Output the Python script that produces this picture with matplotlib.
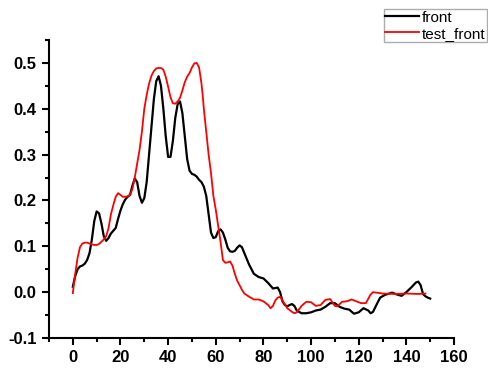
import matplotlib
matplotlib.use("Agg")
import matplotlib.pyplot as plt
from matplotlib.ticker import MultipleLocator

front_x = [0, 1, 2, 3, 4, 5, 6, 7, 8, 9, 10, 11, 12, 13, 14, 15, 16, 17, 18, 19,
           20, 21, 22, 23, 24, 25, 26, 27, 28, 29, 30, 31, 32, 33, 34, 35, 36, 37, 38, 39,
           40, 41, 42, 43, 44, 45, 46, 47, 48, 49, 50, 51, 52, 53, 54, 55, 56, 57, 58, 59,
           60, 61, 62, 63, 64, 65, 66, 67, 68, 69, 70, 71, 72, 74, 76, 78, 80, 82, 84, 85,
           86, 87, 88, 89, 90, 91, 92, 93, 94, 96, 98, 100, 102, 104, 106, 108, 110, 112, 114, 116,
           118, 120, 122, 124, 125, 126, 128, 129, 131, 134, 136, 138, 140, 142, 144, 145, 146, 147, 148, 149, 150]
front_y = [0.012, 0.035, 0.05, 0.056, 0.058, 0.062, 0.07, 0.085, 0.115, 0.155, 0.176, 0.172, 0.15, 0.122, 0.112, 0.118, 0.128, 0.134, 0.14, 0.16,
           0.178, 0.192, 0.202, 0.208, 0.212, 0.232, 0.248, 0.24, 0.21, 0.195, 0.205, 0.24, 0.3, 0.36, 0.42, 0.46, 0.471, 0.45, 0.4, 0.34,
           0.295, 0.295, 0.33, 0.38, 0.41, 0.416, 0.39, 0.34, 0.29, 0.265, 0.258, 0.256, 0.252, 0.245, 0.24, 0.23, 0.21, 0.17, 0.13, 0.118,
           0.12, 0.133, 0.137, 0.13, 0.115, 0.097, 0.089, 0.088, 0.09, 0.097, 0.102, 0.098, 0.085, 0.06, 0.04, 0.033, 0.03, 0.02, 0.008, 0.009,
           0.01, 0.0, -0.02, -0.028, -0.031, -0.028, -0.026, -0.03, -0.04, -0.046, -0.046, -0.044, -0.04, -0.038, -0.032, -0.024, -0.024, -0.032, -0.036, -0.038,
           -0.047, -0.044, -0.035, -0.04, -0.046, -0.043, -0.022, -0.012, -0.006, -0.001, -0.005, -0.008, 0.0, 0.01, 0.021, 0.023, 0.015, -0.004, -0.009, -0.012, -0.014]

test_x = [0, 1, 2, 3, 4, 5, 6, 7, 8, 9, 10, 11, 12, 13, 14, 15, 16, 17, 18, 19,
          20, 21, 22, 23, 24, 25, 26, 27, 28, 29, 30, 31, 32, 33, 34, 35, 36, 37, 38, 39,
          40, 41, 42, 43, 44, 45, 46, 47, 48, 49, 50, 51, 52, 53, 54, 54.5, 55, 56, 57, 58,
          59, 60, 61, 62, 63, 64, 65, 66, 67, 68, 69, 70, 71, 72, 74, 76, 78, 80, 82, 83,
          84, 85, 86, 87, 88, 90, 92, 93, 94, 96, 98, 100, 102, 104, 106, 108, 110, 111, 113, 115,
          117, 119, 121, 123, 125, 126, 130, 135, 140, 145, 148]
test_y = [-0.002, 0.04, 0.075, 0.098, 0.106, 0.108, 0.108, 0.106, 0.104, 0.103, 0.103, 0.105, 0.11, 0.115, 0.122, 0.14, 0.17, 0.19, 0.208, 0.216,
          0.212, 0.208, 0.208, 0.209, 0.212, 0.225, 0.25, 0.28, 0.31, 0.35, 0.4, 0.43, 0.455, 0.472, 0.482, 0.488, 0.489, 0.489, 0.485, 0.47,
          0.448, 0.425, 0.412, 0.411, 0.416, 0.424, 0.44, 0.458, 0.47, 0.478, 0.49, 0.499, 0.5, 0.49, 0.455, 0.43, 0.4, 0.35, 0.3, 0.26,
          0.21, 0.18, 0.145, 0.11, 0.07, 0.064, 0.065, 0.067, 0.058, 0.04, 0.025, 0.015, 0.005, -0.003, -0.01, -0.016, -0.016, -0.02, -0.028, -0.035,
          -0.03, -0.018, -0.012, -0.01, -0.018, -0.035, -0.043, -0.046, -0.044, -0.03, -0.021, -0.022, -0.03, -0.028, -0.017, -0.015, -0.03, -0.031, -0.021, -0.02,
          -0.016, -0.02, -0.024, -0.024, -0.005, 0.0, -0.003, -0.004, -0.003, -0.004, -0.003]

labels = ["front", "test_front"]

plt.rcParams['font.family'] = ['Liberation Sans', 'DejaVu Sans']

fig = plt.figure(figsize=(4.88, 3.72), dpi=100)
ax = fig.add_axes([49/488, 1-338/372, (454-49)/488, (338-40)/372])

ax.plot(front_x, front_y, color='black', lw=1.6, label=labels[0])
ax.plot(test_x, test_y, color='red', lw=1.3, label=labels[1])

ax.set_xlim(-10, 160)
ax.set_ylim(-0.1, 0.55)
ax.xaxis.set_major_locator(MultipleLocator(20))
ax.xaxis.set_minor_locator(MultipleLocator(10))
ax.yaxis.set_major_locator(MultipleLocator(0.1))
ax.yaxis.set_minor_locator(MultipleLocator(0.05))
ax.yaxis.set_major_formatter(matplotlib.ticker.FormatStrFormatter('%.1f'))

for s in ['top', 'right']:
    ax.spines[s].set_visible(False)
for s in ['left', 'bottom']:
    ax.spines[s].set_linewidth(1.5)
ax.tick_params(which='major', direction='out', length=5, width=1.5, labelsize=12, pad=4)
ax.tick_params(which='minor', direction='out', length=3, width=1.5)
for lab in ax.get_xticklabels() + ax.get_yticklabels():
    lab.set_fontweight('bold')

leg = fig.legend(loc='upper right', bbox_to_anchor=(487/488, 1-9/372), bbox_transform=fig.transFigure,
                 fancybox=False, frameon=True, fontsize=11, handlelength=2.2,
                 borderpad=0.1, labelspacing=0.15, handletextpad=0.2, borderaxespad=0)
leg.get_frame().set_edgecolor('#999999')
leg.get_frame().set_linewidth(1.0)

fig.savefig('out.png', dpi=100)
